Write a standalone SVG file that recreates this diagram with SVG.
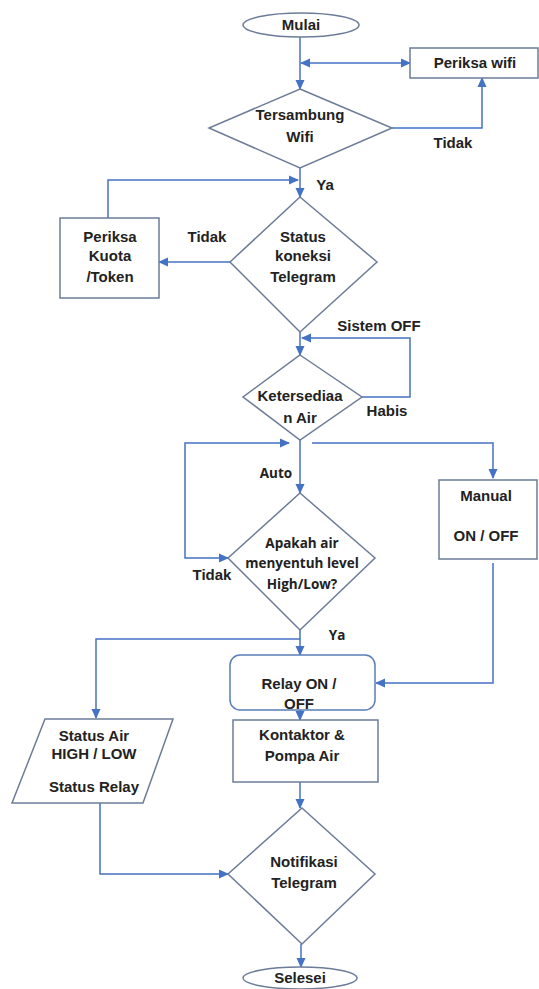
<svg xmlns="http://www.w3.org/2000/svg" width="539" height="989" viewBox="0 0 539 989">
<defs>
<marker id="ah" markerWidth="10" markerHeight="10" refX="9" refY="5" orient="auto-start-reverse" markerUnits="userSpaceOnUse"><path d="M0,0.5 L10,5 L0,9.5 z" fill="#4472C4"/></marker>
</defs>
<style>
.sh{fill:#fff;stroke:#6C7C98;stroke-width:1.5}
.c{fill:none;stroke:#4472C4;stroke-width:1.5}
.t{font-family:"Liberation Sans",Arial,sans-serif;font-weight:bold;font-size:15px;fill:#222;text-anchor:middle}
.k{font-family:"Open Sans","Noto Sans",sans-serif;font-weight:700;font-size:13.5px;fill:#222;text-anchor:middle}
</style>
<rect width="539" height="989" fill="#fff"/>
<g id="connectors">
<path class="c" d="M300,37 L300,89" marker-end="url(#ah)"/>
<path class="c" d="M301,63 L410,63" marker-start="url(#ah)" marker-end="url(#ah)"/>
<path class="c" d="M392,128 L482,128 L482,78" marker-end="url(#ah)"/>
<path class="c" d="M300,168 L300,197" marker-end="url(#ah)"/>
<path class="c" d="M108,218 L108,180 L298,180" marker-end="url(#ah)"/>
<path class="c" d="M230,262 L159,262" marker-end="url(#ah)"/>
<path class="c" d="M300,332 L300,355" marker-end="url(#ah)"/>
<path class="c" d="M362,397 L410,397 L410,338 L302,338" marker-end="url(#ah)"/>
<path class="c" d="M300,440 L300,493" marker-end="url(#ah)"/>
<path class="c" d="M228,558 L185,558 L185,443 L289,443" marker-start="url(#ah)" marker-end="url(#ah)"/>
<path class="c" d="M312,443 L493,443 L493,478" marker-end="url(#ah)"/>
<path class="c" d="M493,563 L493,683 L376,683" marker-end="url(#ah)"/>
<path class="c" d="M300,630 L300,655" marker-end="url(#ah)"/>
<path class="c" d="M300,639 L96,639 L96,718" marker-end="url(#ah)"/>
<path class="c" d="M300,710 L300,720" marker-end="url(#ah)"/>
<path class="c" d="M300,782 L300,808" marker-end="url(#ah)"/>
<path class="c" d="M100,803 L100,874 L228,874" marker-end="url(#ah)"/>
<path class="c" d="M301,944 L301,967" marker-end="url(#ah)"/>
</g>
<g id="mulai"><ellipse class="sh" cx="301" cy="25" rx="58" ry="12"/><text class="t" x="301" y="30">Mulai</text></g>
<g id="periksa-wifi"><rect class="sh" x="410" y="48" width="128" height="30"/><text class="t" x="475" y="68">Periksa wifi</text></g>
<g id="tersambung"><polygon class="sh" points="300,89 392,128 300,168 209,128"/><text class="t" x="300" y="120">Tersambung</text><text class="t" x="300" y="142">Wifi</text></g>
<g id="status-telegram"><polygon class="sh" points="300,197 377,262 300,332 230,262"/><text class="t" x="303" y="242">Status</text><text class="t" x="303" y="261">koneksi</text><text class="t" x="303" y="282">Telegram</text></g>
<g id="periksa-kuota"><rect class="sh" x="60" y="218" width="99" height="80"/><text class="t" x="110" y="242">Periksa</text><text class="t" x="110" y="261">Kuota</text><text class="t" x="110" y="282">/Token</text></g>
<g id="ketersediaan"><polygon class="sh" points="300,355 362,397 300,440 243,397"/><text class="t" x="300" y="401">Ketersediaa</text><text class="t" x="300" y="423">n Air</text></g>
<g id="apakah"><polygon class="sh" points="300,493 375,558 300,630 228,558"/><text class="k" x="302" y="548">Apakah air</text><text class="k" x="302" y="568">menyentuh level</text><text class="k" x="302" y="589">High/Low?</text></g>
<g id="manual"><rect class="sh" x="439" y="480" width="98" height="79"/><text class="t" x="486" y="501">Manual</text><text class="t" x="486" y="541">ON / OFF</text></g>
<g id="relay"><rect class="sh" x="230" y="655" width="145" height="55" rx="10" style="stroke:#5B7DB8"/><text class="t" x="299" y="689">Relay ON /</text><text class="t" x="299" y="709">OFF</text></g>
<g id="kontaktor"><rect class="sh" x="233" y="720" width="145" height="62"/><text class="t" x="302" y="740">Kontaktor &amp;</text><text class="t" x="302" y="761">Pompa Air</text></g>
<g id="status-air"><polygon class="sh" points="45,719 173,719 143,803 12,803"/><text class="t" x="94" y="741">Status Air</text><text class="t" x="94" y="759">HIGH / LOW</text><text class="t" x="94" y="792">Status Relay</text></g>
<g id="notifikasi"><polygon class="sh" points="302,808 375,874 302,944 228,874"/><text class="t" x="304" y="867">Notifikasi</text><text class="t" x="304" y="888">Telegram</text></g>
<g id="selesei"><ellipse class="sh" cx="300" cy="978" rx="57" ry="11"/><text class="t" x="300" y="983">Selesei</text></g>
<g id="labels">
<text class="t" x="453" y="148">Tidak</text>
<text class="t" x="325" y="190">Ya</text>
<text class="t" x="207" y="242">Tidak</text>
<text class="t" x="379" y="331">Sistem OFF</text>
<text class="t" x="387" y="416">Habis</text>
<text class="k" x="276" y="478">Auto</text>
<text class="t" x="212" y="580">Tidak</text>
<text class="k" x="337" y="640">Ya</text>
</g>
</svg>
